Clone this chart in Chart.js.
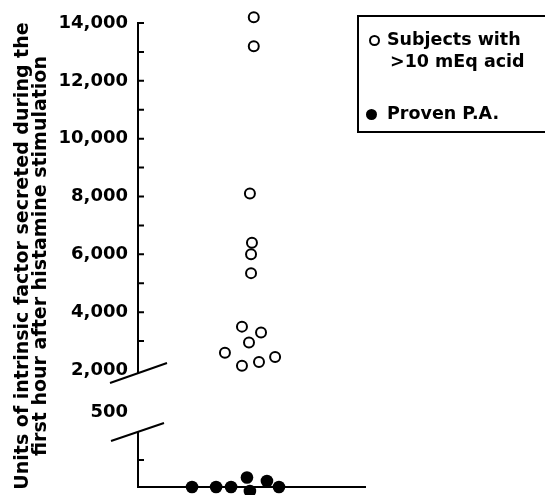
<!DOCTYPE html>
<html lang="en">
<head>
    <meta charset="UTF-8">
    <title>Intrinsic factor after histamine stimulation</title>
    <script src="https://cdn.jsdelivr.net/npm/chart.js"></script>
    <style>
        body {
            margin: 0;
            padding: 0;
            background: #fff;
        }

        .wrap {
            position: relative;
            width: 545px;
            height: 495px;
            overflow: hidden;
            font-family: 'DejaVu Sans', sans-serif;
            color: #000;
        }

        canvas {
            position: absolute;
            left: 0;
            top: 0;
        }

        .ytitle {
            position: absolute;
            left: 30px;
            top: 256px;
            width: 600px;
            transform: translate(-50%, -50%) rotate(-90deg);
            text-align: center;
            font-weight: bold;
            font-size: 19px;
            line-height: 18px;
            white-space: nowrap;
        }

        .legend {
            position: absolute;
            left: 357px;
            top: 15px;
            width: 200px;
            height: 114px;
            border: 2px solid #000;
            font-weight: bold;
            font-size: 17.5px;
        }

        .legend .row {
            position: absolute;
            left: 28px;
            white-space: nowrap;
        }

        .legend .dot {
            position: absolute;
            border-radius: 50%;
        }
    </style>
</head>
<body>
    <div class="wrap">
        <canvas id="chart" width="545" height="495"></canvas>
        <div class="ytitle">Units of intrinsic factor secreted during the<br>first hour after histamine stimulation</div>
        <div class="legend">
            <span class="dot" style="left:10px;top:18px;width:7px;height:7px;border:2px solid #000;"></span>
            <div class="row" style="top:12px;">Subjects with</div>
            <div class="row" style="top:34px;left:31px;">&gt;10 mEq acid</div>
            <span class="dot" style="left:7px;top:92px;width:11px;height:11px;background:#000;"></span>
            <div class="row" style="top:86px;">Proven P.A.</div>
        </div>
    </div>

    <script>
        // subjects with >10 mEq acid (horizontal spread is only scatter for legibility)
        const acidX = [5.1, 5.1, 4.93, 5.02, 4.98, 4.98, 4.58, 5.42, 4.89, 3.83, 4.58, 5.33, 6.04];
        const acidUnits = [14200, 13200, 8100, 6400, 6000, 5350, 3500, 3300, 2950, 2600, 2150, 2280, 2450];

        // proven pernicious anaemia, all at zero
        const paX = [2.38, 3.44, 4.1, 4.8, 4.93, 5.68, 6.21];
        const paUnits = [0, 0, 0, 35, -15, 22, 0];

        const upperTicks = [2000, 4000, 6000, 8000, 10000, 12000, 14000];
        const middleTicks = [500];

        const tickFont = { family: 'DejaVu Sans', size: 18, weight: 'bold' };
        const axisX = 138;

        const toPoints = (xs, ys) => xs.map((x, i) => ({ x: x, y: ys[i] }));

        // inward tick marks and the axis break slashes
        const axisExtras = {
            id: 'axisExtras',
            afterDraw(chart) {
                const ctx = chart.ctx;
                const top = chart.scales.yTop;
                const low = chart.scales.yLow;
                ctx.save();
                ctx.strokeStyle = '#000';
                ctx.lineWidth = 2;
                ctx.beginPath();
                for (let v = 3000; v <= 14000; v += 1000) {
                    const y = top.getPixelForValue(v);
                    ctx.moveTo(axisX, y);
                    ctx.lineTo(axisX + 6, y);
                }
                const yl = low.getPixelForValue(100);
                ctx.moveTo(axisX, yl);
                ctx.lineTo(axisX + 6, yl);
                // small extension of the upper axis to the break
                ctx.moveTo(axisX, top.bottom);
                ctx.lineTo(axisX, top.bottom + 3);
                ctx.stroke();

                ctx.beginPath();
                ctx.moveTo(axisX - 28, top.bottom + 13);
                ctx.lineTo(axisX + 29, top.bottom - 7);
                ctx.moveTo(axisX - 27, low.top + 8);
                ctx.lineTo(axisX + 26, low.top - 10);
                ctx.stroke();
                ctx.restore();
            }
        };

        // fixed axis width, and no label overhang pushing the plot area in
        const fixWidth = (scale) => {
            scale.width = axisX;
            scale.paddingTop = 0;
            scale.paddingBottom = 0;
        };

        new Chart(document.getElementById('chart'), {
            type: 'scatter',
            data: {
                datasets: [{
                    label: 'Subjects with >10 mEq acid',
                    data: toPoints(acidX, acidUnits),
                    yAxisID: 'yTop',
                    pointStyle: 'circle',
                    pointRadius: 5,
                    pointBorderWidth: 2,
                    pointBackgroundColor: '#fff',
                    pointBorderColor: '#000',
                    clip: false
                }, {
                    label: 'Proven P.A.',
                    data: toPoints(paX, paUnits),
                    yAxisID: 'yLow',
                    pointStyle: 'circle',
                    pointRadius: 6.3,
                    pointBorderWidth: 0,
                    pointBackgroundColor: '#000',
                    pointBorderColor: '#000',
                    clip: false
                }]
            },
            options: {
                responsive: false,
                animation: false,
                layout: {
                    padding: { top: 23, right: 180, left: 0, bottom: 0 }
                },
                plugins: {
                    legend: { display: false },
                    tooltip: { enabled: false }
                },
                scales: {
                    x: {
                        type: 'linear',
                        min: 0,
                        max: 10,
                        ticks: { display: false },
                        grid: { drawOnChartArea: false, drawTicks: false },
                        border: { color: '#000', width: 2 },
                        afterFit(scale) {
                            scale.height = 8;
                            scale.paddingLeft = 0;
                            scale.paddingRight = 0;
                        }
                    },
                    yLow: {
                        type: 'linear',
                        position: 'left',
                        stack: 'broken',
                        stackWeight: 54,
                        min: 0,
                        max: 200,
                        ticks: { display: false },
                        grid: { drawOnChartArea: false, drawTicks: false },
                        border: { color: '#000', width: 2 },
                        afterFit: fixWidth
                    },
                    yMid: {
                        type: 'linear',
                        position: 'left',
                        stack: 'broken',
                        stackWeight: 63,
                        min: 300,
                        max: 900,
                        afterBuildTicks(scale) {
                            scale.ticks = middleTicks.map(v => ({ value: v }));
                        },
                        ticks: { color: '#000', font: tickFont, padding: 10 },
                        grid: { drawOnChartArea: false, drawTicks: false },
                        border: { display: false },
                        afterFit: fixWidth
                    },
                    yTop: {
                        type: 'linear',
                        position: 'left',
                        stack: 'broken',
                        stackWeight: 347,
                        min: 2000,
                        max: 14000,
                        afterBuildTicks(scale) {
                            scale.ticks = upperTicks.map(v => ({ value: v }));
                        },
                        ticks: {
                            color: '#000',
                            font: tickFont,
                            padding: 10,
                            autoSkip: false,
                            callback: (v) => v.toLocaleString('en-US')
                        },
                        grid: { drawOnChartArea: false, drawTicks: false },
                        border: { color: '#000', width: 2 },
                        afterFit: fixWidth
                    }
                }
            },
            plugins: [axisExtras]
        });
    </script>
</body>
</html>
